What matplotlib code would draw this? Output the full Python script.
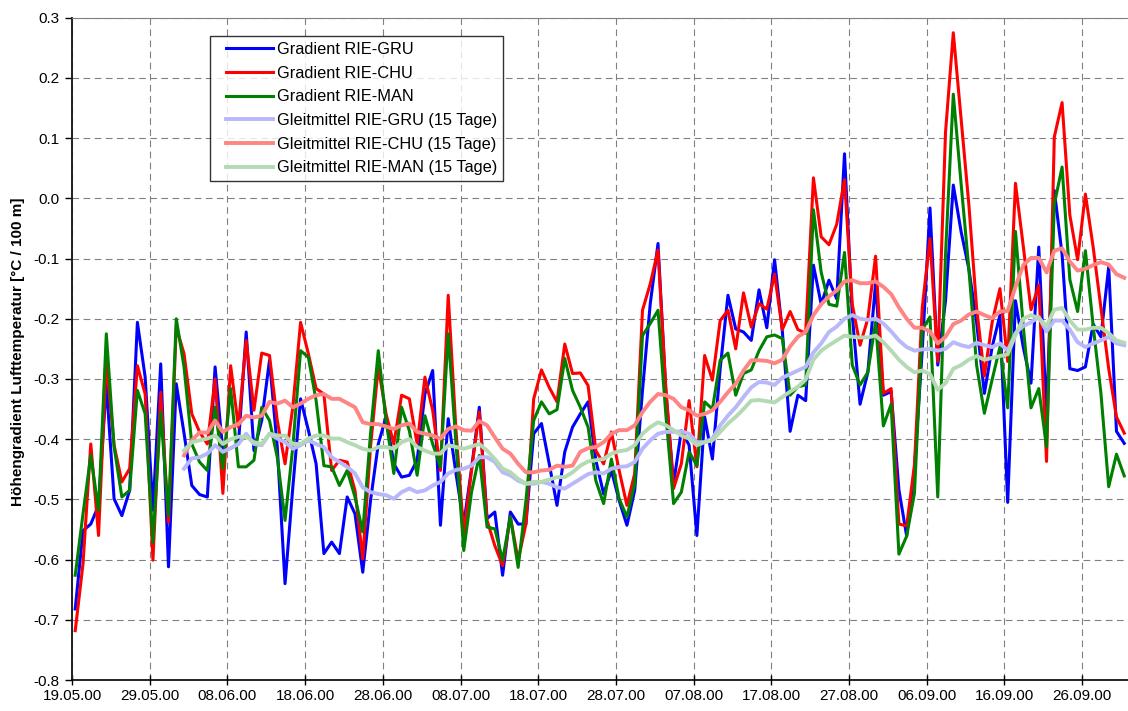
import matplotlib
matplotlib.use("Agg")

import matplotlib.pyplot as plt
import matplotlib.dates as mdates
import pandas as pd
from matplotlib.lines import Line2D
from matplotlib.legend_handler import HandlerLine2D
from matplotlib.ticker import FuncFormatter

plt.rcParams["font.family"] = ["Liberation Sans", "DejaVu Sans"]

# --------------------------------------------------
# Data
# --------------------------------------------------

# daily values, 19.05.2000 - 02.10.2000
start_date = "2000-05-19 10:00"

gradient_gru = [
    -0.682, -0.552, -0.541, -0.510, -0.308, -0.499, -0.527, -0.485, -0.206, -0.297,
    -0.518, -0.275, -0.612, -0.308, -0.390, -0.477, -0.492, -0.496, -0.280, -0.421,
    -0.415, -0.408, -0.222, -0.419, -0.369, -0.269, -0.413, -0.640, -0.480, -0.333,
    -0.385, -0.441, -0.590, -0.571, -0.590, -0.496, -0.524, -0.621, -0.502, -0.408,
    -0.363, -0.441, -0.463, -0.460, -0.435, -0.325, -0.286, -0.543, -0.366, -0.457,
    -0.541, -0.449, -0.347, -0.532, -0.521, -0.626, -0.521, -0.541, -0.541, -0.391,
    -0.374, -0.441, -0.510, -0.421, -0.380, -0.358, -0.338, -0.435, -0.491, -0.452,
    -0.502, -0.543, -0.485, -0.319, -0.175, -0.075, -0.319, -0.474, -0.386, -0.410,
    -0.560, -0.363, -0.433, -0.283, -0.161, -0.217, -0.222, -0.236, -0.152, -0.215,
    -0.102, -0.221, -0.387, -0.327, -0.336, -0.111, -0.176, -0.136, -0.167, 0.074,
    -0.194, -0.342, -0.289, -0.141, -0.327, -0.321, -0.484, -0.561, -0.449, -0.253,
    -0.016, -0.277, -0.170, 0.022, -0.055, -0.117, -0.206, -0.324, -0.247, -0.194,
    -0.505, -0.170, -0.247, -0.307, -0.081, -0.360, 0.013, -0.093, -0.283, -0.286,
    -0.280, -0.209, -0.230, -0.114, -0.387, -0.407,
]

gradient_chu = [
    -0.718, -0.607, -0.408, -0.560, -0.270, -0.410, -0.471, -0.449, -0.278, -0.325,
    -0.601, -0.322, -0.538, -0.214, -0.258, -0.358, -0.388, -0.408, -0.300, -0.490,
    -0.278, -0.380, -0.236, -0.352, -0.257, -0.261, -0.369, -0.441, -0.347, -0.206,
    -0.258, -0.316, -0.325, -0.452, -0.435, -0.438, -0.485, -0.599, -0.413, -0.280,
    -0.358, -0.408, -0.327, -0.333, -0.408, -0.297, -0.352, -0.452, -0.161, -0.385,
    -0.557, -0.452, -0.355, -0.535, -0.577, -0.610, -0.529, -0.601, -0.541, -0.333,
    -0.285, -0.314, -0.338, -0.242, -0.291, -0.290, -0.311, -0.419, -0.441, -0.388,
    -0.452, -0.510, -0.457, -0.186, -0.142, -0.086, -0.314, -0.482, -0.441, -0.336,
    -0.446, -0.261, -0.302, -0.203, -0.186, -0.250, -0.157, -0.214, -0.175, -0.184,
    -0.126, -0.218, -0.188, -0.218, -0.224, 0.034, -0.064, -0.077, -0.043, 0.031,
    -0.176, -0.244, -0.200, -0.096, -0.324, -0.316, -0.541, -0.544, -0.443, -0.182,
    -0.067, -0.271, 0.110, 0.275, 0.132, -0.010, -0.182, -0.295, -0.206, -0.150,
    -0.271, 0.025, -0.079, -0.185, -0.144, -0.437, 0.102, 0.159, -0.028, -0.102,
    0.007, -0.081, -0.182, -0.283, -0.363, -0.390,
]

gradient_man = [
    -0.626, -0.524, -0.427, -0.518, -0.225, -0.413, -0.496, -0.485, -0.319, -0.358,
    -0.571, -0.355, -0.527, -0.200, -0.280, -0.408, -0.438, -0.452, -0.347, -0.449,
    -0.316, -0.446, -0.446, -0.435, -0.347, -0.369, -0.430, -0.535, -0.413, -0.253,
    -0.264, -0.336, -0.444, -0.446, -0.477, -0.452, -0.496, -0.554, -0.391, -0.253,
    -0.369, -0.457, -0.347, -0.386, -0.460, -0.361, -0.408, -0.446, -0.225, -0.408,
    -0.585, -0.488, -0.427, -0.546, -0.549, -0.601, -0.529, -0.613, -0.502, -0.369,
    -0.338, -0.358, -0.351, -0.266, -0.319, -0.347, -0.380, -0.469, -0.507, -0.433,
    -0.499, -0.529, -0.474, -0.228, -0.208, -0.186, -0.358, -0.507, -0.488, -0.421,
    -0.444, -0.338, -0.350, -0.269, -0.257, -0.327, -0.291, -0.285, -0.253, -0.230,
    -0.227, -0.233, -0.327, -0.313, -0.310, -0.019, -0.123, -0.176, -0.179, -0.090,
    -0.277, -0.310, -0.289, -0.206, -0.378, -0.342, -0.591, -0.561, -0.490, -0.218,
    -0.197, -0.496, -0.093, 0.173, 0.025, -0.117, -0.277, -0.357, -0.301, -0.247,
    -0.348, -0.055, -0.212, -0.348, -0.316, -0.413, -0.010, 0.052, -0.135, -0.188,
    -0.087, -0.212, -0.324, -0.479, -0.425, -0.461,
]

# 15-day moving averages, first value on day 15 (02.06.2000)
ma_offset = 14

gleit_gru = [
    -0.449, -0.432, -0.430, -0.424, -0.410, -0.421, -0.415, -0.408, -0.391, -0.408,
    -0.410, -0.391, -0.399, -0.405, -0.416, -0.410, -0.402, -0.408, -0.413, -0.430,
    -0.438, -0.446, -0.457, -0.480, -0.488, -0.491, -0.493, -0.499, -0.488, -0.482,
    -0.488, -0.485, -0.477, -0.471, -0.457, -0.451, -0.449, -0.444, -0.430, -0.430,
    -0.438, -0.455, -0.460, -0.469, -0.474, -0.474, -0.471, -0.474, -0.480, -0.482,
    -0.474, -0.466, -0.458, -0.455, -0.457, -0.449, -0.446, -0.445, -0.438, -0.416,
    -0.402, -0.391, -0.388, -0.388, -0.387, -0.391, -0.405, -0.405, -0.399, -0.377,
    -0.361, -0.347, -0.330, -0.314, -0.305, -0.306, -0.310, -0.298, -0.292, -0.286,
    -0.280, -0.256, -0.241, -0.222, -0.213, -0.200, -0.194, -0.200, -0.202, -0.200,
    -0.208, -0.221, -0.236, -0.247, -0.253, -0.251, -0.250, -0.253, -0.250, -0.239,
    -0.244, -0.247, -0.240, -0.244, -0.247, -0.241, -0.253, -0.224, -0.212, -0.206,
    -0.197, -0.221, -0.203, -0.203, -0.218, -0.239, -0.247, -0.241, -0.236, -0.230,
    -0.241, -0.244,
]

gleit_chu = [
    -0.427, -0.402, -0.389, -0.389, -0.369, -0.388, -0.380, -0.375, -0.361, -0.364,
    -0.361, -0.338, -0.341, -0.336, -0.347, -0.341, -0.333, -0.327, -0.325, -0.333,
    -0.333, -0.340, -0.347, -0.372, -0.375, -0.375, -0.379, -0.383, -0.377, -0.374,
    -0.388, -0.391, -0.394, -0.399, -0.383, -0.379, -0.385, -0.386, -0.370, -0.377,
    -0.397, -0.416, -0.424, -0.441, -0.455, -0.455, -0.452, -0.451, -0.444, -0.446,
    -0.444, -0.421, -0.415, -0.413, -0.405, -0.391, -0.385, -0.385, -0.377, -0.355,
    -0.338, -0.325, -0.327, -0.333, -0.347, -0.352, -0.361, -0.358, -0.352, -0.338,
    -0.322, -0.308, -0.286, -0.269, -0.269, -0.270, -0.274, -0.268, -0.246, -0.230,
    -0.222, -0.194, -0.176, -0.163, -0.153, -0.138, -0.136, -0.141, -0.141, -0.138,
    -0.147, -0.159, -0.181, -0.200, -0.215, -0.215, -0.221, -0.241, -0.230, -0.209,
    -0.203, -0.193, -0.188, -0.194, -0.199, -0.188, -0.187, -0.147, -0.111, -0.099,
    -0.099, -0.123, -0.087, -0.083, -0.105, -0.120, -0.117, -0.111, -0.106, -0.110,
    -0.126, -0.132,
]

gleit_man = [
    -0.419, -0.405, -0.402, -0.399, -0.394, -0.408, -0.400, -0.396, -0.396, -0.405,
    -0.408, -0.391, -0.394, -0.394, -0.408, -0.408, -0.399, -0.394, -0.394, -0.399,
    -0.399, -0.405, -0.410, -0.416, -0.419, -0.413, -0.413, -0.416, -0.405, -0.400,
    -0.413, -0.419, -0.424, -0.424, -0.410, -0.413, -0.416, -0.412, -0.408, -0.419,
    -0.433, -0.449, -0.455, -0.466, -0.474, -0.471, -0.471, -0.467, -0.463, -0.463,
    -0.455, -0.444, -0.437, -0.435, -0.433, -0.424, -0.420, -0.418, -0.410, -0.391,
    -0.380, -0.372, -0.377, -0.385, -0.394, -0.399, -0.410, -0.405, -0.402, -0.388,
    -0.374, -0.363, -0.350, -0.336, -0.335, -0.337, -0.339, -0.330, -0.321, -0.313,
    -0.301, -0.268, -0.253, -0.244, -0.236, -0.228, -0.230, -0.231, -0.231, -0.228,
    -0.239, -0.253, -0.268, -0.280, -0.289, -0.286, -0.292, -0.318, -0.307, -0.283,
    -0.277, -0.268, -0.262, -0.268, -0.265, -0.262, -0.259, -0.227, -0.200, -0.194,
    -0.199, -0.212, -0.185, -0.182, -0.203, -0.218, -0.218, -0.215, -0.215, -0.224,
    -0.236, -0.240,
]

labels = [
    "Gradient RIE-GRU",
    "Gradient RIE-CHU",
    "Gradient RIE-MAN",
    "Gleitmittel RIE-GRU (15 Tage)",
    "Gleitmittel RIE-CHU (15 Tage)",
    "Gleitmittel RIE-MAN (15 Tage)",
]

y_label = "Höhengradient Lufttemperatur [°C / 100 m]"


def main():

    dates = pd.date_range(start_date, periods=len(gradient_gru), freq="D")
    ma_dates = dates[ma_offset:]

    fig = plt.figure(figsize=(11.28, 7.11), dpi=100)
    ax = fig.add_axes([72 / 1128, 1 - 680 / 711, 1056 / 1128, 662.3 / 711])

    # --------------------------------------------------
    # Series
    # --------------------------------------------------

    ax.plot(dates, gradient_gru, color="#0000ff", lw=2.2, label=labels[0], zorder=3)
    ax.plot(dates, gradient_chu, color="#ff0000", lw=2.2, label=labels[1], zorder=3)
    ax.plot(dates, gradient_man, color="#008000", lw=2.2, label=labels[2], zorder=3)

    ax.plot(ma_dates, gleit_gru, color="#b8b8fa", lw=2.8, label=labels[3], zorder=4)
    ax.plot(ma_dates, gleit_chu, color="#ff8484", lw=2.8, label=labels[4], zorder=4)
    ax.plot(ma_dates, gleit_man, color="#b4dab4", lw=2.8, label=labels[5], zorder=4)

    # --------------------------------------------------
    # Axes
    # --------------------------------------------------

    x0 = pd.Timestamp("2000-05-19")
    ax.set_xlim(x0, x0 + pd.Timedelta(days=135.9))
    ax.set_ylim(-0.8, 0.3)

    ax.set_xticks(pd.date_range("2000-05-19", "2000-09-26", freq="10D"))
    ax.xaxis.set_major_formatter(mdates.DateFormatter("%d.%m.%y"))
    ax.set_yticks([i / 10 for i in range(-8, 4)])
    ax.yaxis.set_major_formatter(FuncFormatter(lambda v, _: f"{v:.1f}"))

    ax.tick_params(axis="x", direction="inout", length=7, width=1, labelsize=11, pad=3)
    ax.tick_params(axis="y", direction="out", length=5, width=1, labelsize=11, pad=4)

    ax.grid(True, color="#808080", lw=0.8, linestyle=(0, (6, 4)), zorder=0)

    ax.spines["right"].set_visible(False)
    ax.spines["top"].set_color("#808080")
    ax.spines["left"].set_color("#202020")
    ax.spines["left"].set_linewidth(1.4)
    ax.spines["bottom"].set_linewidth(1.2)

    fig.text(18 / 1128, 1 - 352 / 711, y_label, rotation=90,
             ha="center", va="center", fontsize=11, fontweight="bold")

    # --------------------------------------------------
    # Legend
    # --------------------------------------------------

    leg = ax.legend(
        loc="upper left",
        bbox_to_anchor=(138 / 1056, 1 - 18.5 / 662.3),
        borderaxespad=0,
        fontsize=11.8,
        frameon=True,
        fancybox=False,
        edgecolor="black",
        handlelength=3.5,
        handletextpad=0.25,
        labelspacing=0.53,
        borderpad=0.35,
        handler_map={Line2D: HandlerLine2D(xpad=0.63)},
    )
    leg.get_frame().set_linewidth(1.0)
    leg.set_zorder(10)

    fig.savefig("out.png", dpi=100)


if __name__ == "__main__":
    main()
